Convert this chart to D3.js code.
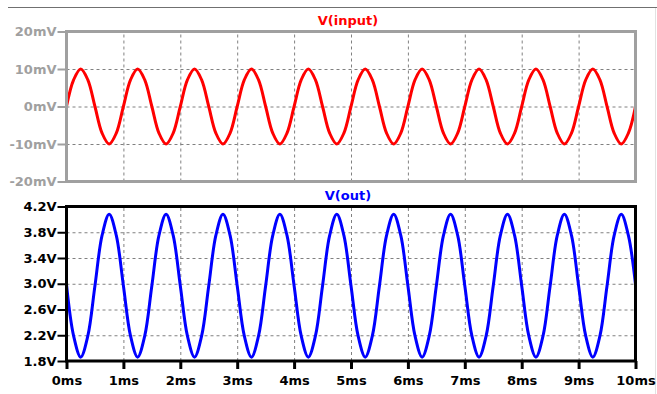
<!DOCTYPE html>
<html>
<head>
<meta charset="utf-8">
<script src="https://cdn.jsdelivr.net/npm/d3@7"></script>
<style>
  body { margin: 0; background: #fff; }
  text { font-family: 'DejaVu Sans', sans-serif; font-weight: bold; font-size: 13px; }
</style>
</head>
<body>
<div id="chart"></div>
<script>
// time samples (ms), every 0.125 ms
let time = [
  0, 0.125, 0.25, 0.375, 0.5, 0.625, 0.75, 0.875,
  1, 1.125, 1.25, 1.375, 1.5, 1.625, 1.75, 1.875,
  2, 2.125, 2.25, 2.375, 2.5, 2.625, 2.75, 2.875,
  3, 3.125, 3.25, 3.375, 3.5, 3.625, 3.75, 3.875,
  4, 4.125, 4.25, 4.375, 4.5, 4.625, 4.75, 4.875,
  5, 5.125, 5.25, 5.375, 5.5, 5.625, 5.75, 5.875,
  6, 6.125, 6.25, 6.375, 6.5, 6.625, 6.75, 6.875,
  7, 7.125, 7.25, 7.375, 7.5, 7.625, 7.75, 7.875,
  8, 8.125, 8.25, 8.375, 8.5, 8.625, 8.75, 8.875,
  9, 9.125, 9.25, 9.375, 9.5, 9.625, 9.75, 9.875,
  10
];

// V(input) in mV
let vInput = [
  0, 7.1, 10, 7.1, 0, -7.1, -10, -7.1,
  0, 7.1, 10, 7.1, 0, -7.1, -10, -7.1,
  0, 7.1, 10, 7.1, 0, -7.1, -10, -7.1,
  0, 7.1, 10, 7.1, 0, -7.1, -10, -7.1,
  0, 7.1, 10, 7.1, 0, -7.1, -10, -7.1,
  0, 7.1, 10, 7.1, 0, -7.1, -10, -7.1,
  0, 7.1, 10, 7.1, 0, -7.1, -10, -7.1,
  0, 7.1, 10, 7.1, 0, -7.1, -10, -7.1,
  0, 7.1, 10, 7.1, 0, -7.1, -10, -7.1,
  0, 7.1, 10, 7.1, 0, -7.1, -10, -7.1,
  0
];

// V(out) in V
let vOut = [
  2.99, 2.19, 1.86, 2.19, 2.97, 3.75, 4.08, 3.75,
  2.97, 2.19, 1.86, 2.19, 2.97, 3.75, 4.08, 3.75,
  2.97, 2.19, 1.86, 2.19, 2.97, 3.75, 4.08, 3.75,
  2.97, 2.19, 1.86, 2.19, 2.97, 3.75, 4.08, 3.75,
  2.97, 2.19, 1.86, 2.19, 2.97, 3.75, 4.08, 3.75,
  2.97, 2.19, 1.86, 2.19, 2.97, 3.75, 4.08, 3.75,
  2.97, 2.19, 1.86, 2.19, 2.97, 3.75, 4.08, 3.75,
  2.97, 2.19, 1.86, 2.19, 2.97, 3.75, 4.08, 3.75,
  2.97, 2.19, 1.86, 2.19, 2.97, 3.75, 4.08, 3.75,
  2.97, 2.19, 1.86, 2.19, 2.97, 3.75, 4.08, 3.75,
  2.99
];

let xTicks = [0, 1, 2, 3, 4, 5, 6, 7, 8, 9, 10];
let inTicks = [-20, -10, 0, 10, 20];
let outTicks = [1.8, 2.2, 2.6, 3.0, 3.4, 3.8, 4.2];

let width = 657, height = 394;
let left = 66.5, right = 635.5;

let svg = d3.select('#chart').append('svg')
  .attr('width', width)
  .attr('height', height);

// window frame lines
svg.append('line')
  .attr('x1', 8).attr('x2', width).attr('y1', 7.5).attr('y2', 7.5)
  .attr('stroke', '#707070');
svg.append('line')
  .attr('x1', 655.5).attr('x2', 655.5).attr('y1', 8).attr('y2', height)
  .attr('stroke', '#e2e2e2');

let x = d3.scaleLinear().domain([0, 10]).range([left, right]);

function pane(cfg) {
  let y = d3.scaleLinear().domain(cfg.domain).range([cfg.bottom, cfg.top]);
  let g = svg.append('g');

  // horizontal grid
  g.append('g')
    .attr('transform', `translate(${left},0)`)
    .call(d3.axisLeft(y).tickValues(cfg.ticks.slice(1, -1)).tickSize(-(right - left)).tickFormat(''))
    .call(function (a) {
      a.select('.domain').remove();
      a.selectAll('line').attr('stroke', '#808080').attr('stroke-dasharray', '3,3');
    });

  // vertical grid
  g.append('g')
    .attr('transform', `translate(0,${cfg.bottom})`)
    .call(d3.axisBottom(x).tickValues(xTicks.slice(1, -1)).tickSize(-(cfg.bottom - cfg.top)).tickFormat(''))
    .call(function (a) {
      a.select('.domain').remove();
      a.selectAll('line').attr('stroke', '#808080').attr('stroke-dasharray', '3,3');
    });

  // y axis labels
  g.append('g')
    .attr('transform', `translate(${left},0)`)
    .call(d3.axisLeft(y).tickValues(cfg.ticks).tickSize(9).tickPadding(1).tickFormat(cfg.format))
    .call(function (a) {
      a.select('.domain').remove();
      a.selectAll('line').attr('stroke', cfg.axisColor).attr('stroke-width', 2);
      a.selectAll('text')
        .attr('fill', cfg.axisColor)
        .style('font-family', "'DejaVu Sans', sans-serif")
        .style('font-weight', 'bold')
        .style('font-size', '13px');
    });

  // waveform
  let clipId = 'clip' + cfg.top;
  svg.append('clipPath').attr('id', clipId)
    .append('rect')
    .attr('x', left).attr('y', cfg.top - 2)
    .attr('width', right - left).attr('height', cfg.bottom - cfg.top + 4);

  let line = d3.line()
    .x(function (d, i) { return x(time[i]); })
    .y(function (d) { return y(d); })
    .curve(d3.curveCatmullRom.alpha(0.5));

  g.append('path')
    .datum(cfg.values)
    .attr('clip-path', `url(#${clipId})`)
    .attr('d', line)
    .attr('fill', 'none')
    .attr('stroke', cfg.color)
    .attr('stroke-width', 3)
    .attr('stroke-linejoin', 'round');

  // frame
  g.append('rect')
    .attr('x', left).attr('y', cfg.top)
    .attr('width', right - left).attr('height', cfg.bottom - cfg.top)
    .attr('fill', 'none')
    .attr('stroke', cfg.axisColor)
    .attr('stroke-width', 3);

  // title
  g.append('text')
    .attr('x', 348).attr('y', cfg.top - 7)
    .attr('text-anchor', 'middle')
    .attr('fill', cfg.color)
    .text(cfg.title);

  return y;
}

pane({
  top: 31.5, bottom: 181.5,
  domain: [-20, 20], ticks: inTicks, values: vInput,
  format: function (d) { return d + 'mV'; },
  color: '#ff0000', axisColor: '#a0a0a0', title: 'V(input)'
});

pane({
  top: 206.5, bottom: 361,
  domain: [1.8, 4.2], ticks: outTicks, values: vOut,
  format: function (d) { return d.toFixed(1) + 'V'; },
  color: '#0000ff', axisColor: '#000000', title: 'V(out)'
});

// time axis under the bottom pane
svg.append('g')
  .attr('transform', 'translate(0,361)')
  .call(d3.axisBottom(x).tickValues(xTicks).tickSize(8).tickPadding(7).tickFormat(function (d) { return d + 'ms'; }))
  .call(function (a) {
    a.select('.domain').remove();
    a.selectAll('line').attr('stroke', '#000').attr('stroke-width', 3);
    a.selectAll('text')
      .attr('fill', '#000')
      .style('font-family', "'DejaVu Sans', sans-serif")
      .style('font-weight', 'bold')
      .style('font-size', '13px');
  });
</script>
</body>
</html>
